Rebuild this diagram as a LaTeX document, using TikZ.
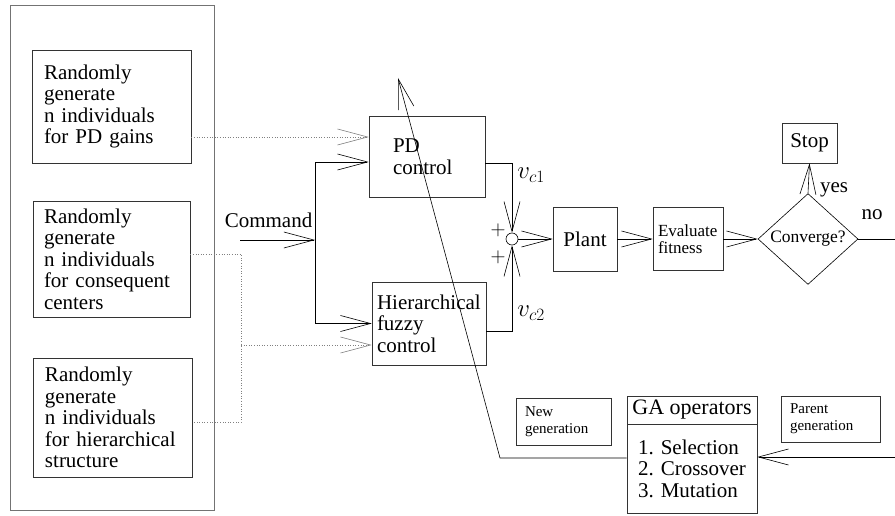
\documentclass[tikz,border=0pt]{standalone}
\usepackage{fontspec}
\setmainfont{Liberation Serif}
\usetikzlibrary{arrows.meta,shapes.geometric,calc}

\tikzset{
  blk/.style={draw=black!80, align=left, inner sep=0pt},
  opena/.style={-{Straight Barb[length=30pt,width=16pt]}},
  dots/.style={gray, dotted},
}

\begin{document}
\begin{tikzpicture}[x=1pt, y=1pt, line width=0.6pt, font=\fontsize{21}{21.5}\selectfont]
  \useasboundingbox (0,0) rectangle (895,515);
  \node[blk, draw=black!55, minimum width=204pt, minimum height=505pt] (pop) at (112,257.5) {};
  \node[blk, minimum width=159pt, minimum height=113pt, text width=135pt] (gpd) at (111.5,408.5) {Randomly\\generate\\n individuals\\for PD gains};
  \node[blk, minimum width=157pt, minimum height=116pt, text width=135pt] (gcc) at (111.5,256) {Randomly\\generate\\n individuals\\for consequent\\centers};
  \node[blk, minimum width=159pt, minimum height=119pt, text width=135pt] (ghs) at (112.5,97.5) {Randomly\\generate\\n individuals\\for hierarchical\\structure};
  \node (cmd) at (268.5,295) {Command};
  \node[blk, minimum width=116pt, minimum height=81pt, text width=68pt] (pd) at (427,358.5) {PD\\control};
  \node[blk, minimum width=114pt, minimum height=83pt, text width=104pt] (hfc) at (429,191.5) {Hierarchical\\fuzzy\\control};
  \node[draw, circle, minimum size=12pt, inner sep=0pt] (sum) at (512,276) {};
  \node[font=\fontsize{26}{26}\selectfont] (vc1) at (531,340) {$v_{c1}$};
  \node[font=\fontsize{26}{26}\selectfont] (vc2) at (531,202) {$v_{c2}$};
  \node at (498,285) {$+$};
  \node at (498,258) {$+$};
  \node[blk, minimum width=64pt, minimum height=64pt] (plant) at (585,276) {Plant};
  \node[blk, minimum width=70pt, minimum height=63pt, text width=60pt, font=\fontsize{17}{17.5}\selectfont] (evalf) at (688,276) {Evaluate\\fitness};
  \node[draw, diamond, minimum width=100pt, minimum height=76pt, inner sep=0pt, font=\fontsize{17.5}{18}\selectfont] (conv) at (808,276) {Converge?};
  \node[blk, minimum width=55pt, minimum height=40pt] (stop) at (809.5,372) {Stop};
  \node at (834,325) {yes};
  \node at (872,300) {no};
  \node[blk, minimum width=130pt, minimum height=28pt, font=\fontsize{22}{23}\selectfont] (gahead) at (692,105) {GA operators};
  \node[blk, minimum width=130pt, minimum height=89pt] (gabody) at (692,46.5) {1. Selection\\2. Crossover\\3. Mutation};
  \node[blk, minimum width=95pt, minimum height=47pt, text width=77pt, font=\fontsize{15}{17}\selectfont] (newg) at (563.5,93.5) {New\\generation};
  \node[blk, minimum width=99pt, minimum height=46pt, text width=81pt, font=\fontsize{15}{17}\selectfont] (parg) at (830.5,96) {Parent\\generation};

  \coordinate (cin) at (240,275);
  \coordinate (split) at (315,275);
  \draw[opena] (cin) -- (split);
  \draw[opena] (split) |- ($(pd.west)+(0,-5.5)$);
  \draw[opena] (split) |- (hfc.west);

  \coordinate (pdin) at ($(pd.west)+(0,19.5)$);
  \draw[dots, opena] (gpd.east |- pdin) -- (pdin);
  \coordinate (dj) at (241,170);
  \draw[dots] ($(gcc.east)+(0,5)$) -| (dj) |- ($(ghs.east)+(0,-4.5)$);
  \draw[dots, opena] (dj) -- (dj -| hfc.west);

  \draw[opena] ($(pd.east)+(0,-6.5)$) -| (sum.north);
  \draw[opena] ($(hfc.east)+(0,-7.5)$) -| (sum.south);
  \draw[opena] (sum) -- (plant);
  \draw[opena] (plant) -- (evalf);
  \draw[opena] (evalf) -- (conv);
  \draw[opena] (conv.north) -- (stop.south);
  \coordinate (rout) at (895,276);
  \draw (conv.east) -- (rout);

  \coordinate (rin) at (895,58);
  \draw[opena] (rin) -- (rin -| gabody.east);
  \coordinate (bend) at (500,57);
  \coordinate (tip) at (398,437);
  \draw[opena] ($(gabody.west)+(0,10.5)$) -- (bend) -- (tip);
\end{tikzpicture}
\end{document}
